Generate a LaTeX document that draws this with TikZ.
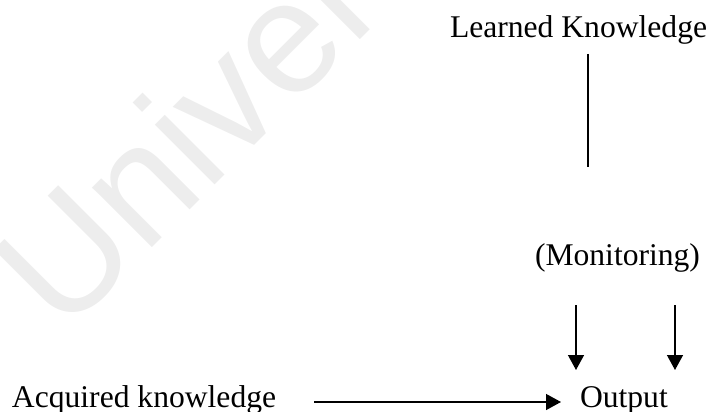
\documentclass[tikz,border=0pt]{standalone}
\usepackage{fontspec}
\setmainfont{Liberation Serif}
\newfontfamily\markfont{Liberation Sans}
\usetikzlibrary{arrows.meta}

\tikzset{
  label text/.style={anchor=base west, inner sep=0pt, outer sep=0pt,
    font=\fontsize{31.6pt}{36pt}\selectfont},
  plain line/.style={line width=1.4pt},
  down arrow/.style={line width=1.4pt, -{Triangle[length=15pt,width=16pt]}},
  watermark/.style={anchor=base west, inner sep=0pt, rotate=45,
    text=black!7, font=\markfont\fontsize{160pt}{160pt}\selectfont}
}

\begin{document}
\begin{tikzpicture}[x=1pt,y=-1pt]
  \useasboundingbox (0,0) rectangle (713,412);
  \begin{scope}
    \clip (0,0) rectangle (713,412);
    \node[watermark] (mark) at (63,337) {Univers};
  \end{scope}

  % labels
  \node[label text] (learned) at (450,38) {Learned Knowledge};
  \node[label text] (monitor) at (535,265) {(Monitoring)};
  \node[label text] (acquired) at (12,407) {Acquired knowledge};
  \node[label text] (output) at (580,407) {Output};

  % line under the learned knowledge
  \coordinate (lineTop) at (588,54);
  \coordinate (lineEnd) at (588,167);
  \draw[plain line] (lineTop) -- (lineEnd);

  % arrows from monitoring down to the output
  \coordinate (leftTop) at (576,305);
  \coordinate (leftTip) at (576,370);
  \coordinate (rightTop) at (675,305);
  \coordinate (rightTip) at (675,370);
  \draw[down arrow] (leftTop) -- (leftTip);
  \draw[down arrow] (rightTop) -- (rightTip);

  % arrow from acquired knowledge to the output
  \coordinate (accStart) at (314,402);
  \coordinate (accTip) at (561,402);
  \draw[down arrow] (accStart) -- (accTip);
\end{tikzpicture}
\end{document}
